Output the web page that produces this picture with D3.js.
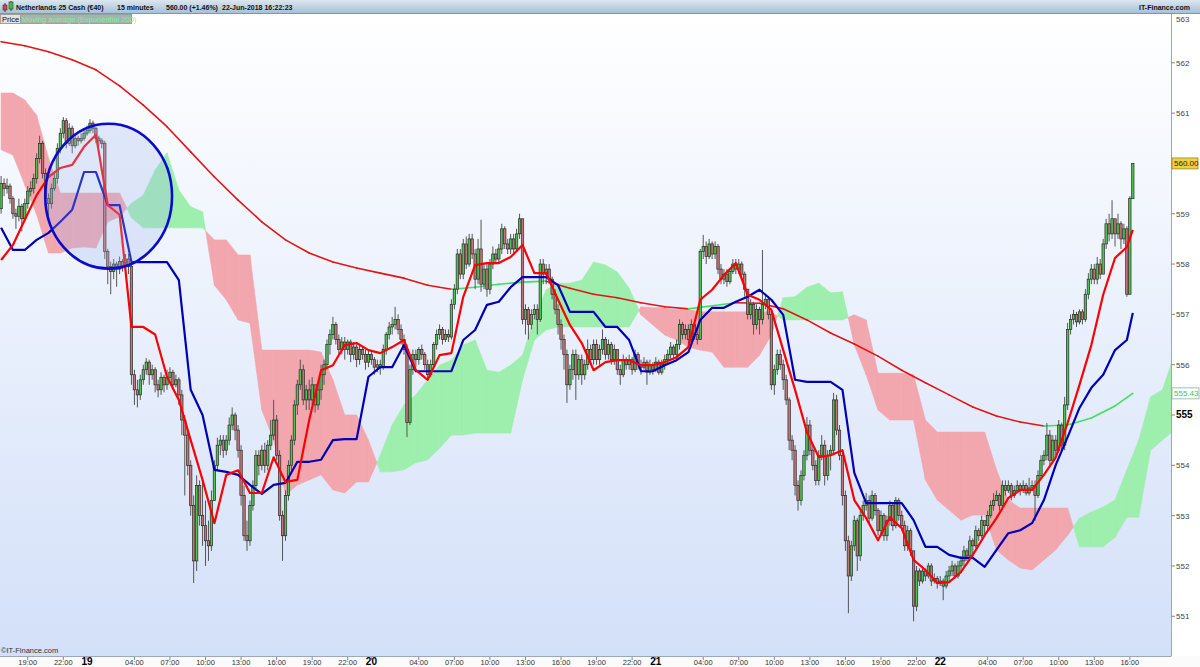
<!DOCTYPE html>
<html>
<head>
<meta charset="utf-8">
<script src="https://cdn.jsdelivr.net/npm/d3@7"></script>
<style>
  body { margin: 0; background: #fff; }
  svg { display: block; font-family: "Liberation Sans", Arial, sans-serif; }
</style>
</head>
<body>
<svg id="chart" width="1200" height="667"></svg>
<script>
// ---------------- data : 15 minute candles, 18-Jun-2018 16:45 -> 22-Jun-2018 16:15 ----------------
var firstOpen = 559.1;
var closes = [
  559.6,559.5,559.55,559.3, 559.0,558.95,559.15,558.9, 559.2,559.45,559.5,559.7, 560.1,560.4,559.8,559.3,
  559.2,559.5,559.7,560.3, 560.6,560.85,560.4,560.7, 560.35,560.5,560.45,560.5, 560.6,560.65,560.8,560.7,
  560.5,560.45,560.4,558.25, 557.95,557.85,558.0,557.9, 558.05,557.95,558.1,557.95, 555.8,555.5,555.4,555.7,
  555.9,556.05,555.8,555.9, 555.6,555.5,555.75,555.6, 555.75,555.85,555.6,555.7, 555.4,554.9,554.6,554.0,
  553.2,552.1,553.6,553.0, 552.8,552.5,552.4,553.3, 554.0,554.4,554.5,554.3, 554.5,554.8,555.0,554.7,
  554.3,553.4,552.6,552.5, 553.2,553.6,554.2,554.0, 554.3,554.0,554.4,554.6, 554.9,554.2,553.0,552.6,
  553.4,554.0,554.5,555.2, 555.6,555.9,555.3,555.5, 555.3,555.6,555.2,555.5, 555.8,556.0,556.4,556.6,
  556.8,556.5,556.3,556.45, 556.3,556.45,556.2,556.35, 556.1,556.3,556.2,556.05, 556.2,556.1,555.95,556.0,
  555.95,556.3,556.6,556.75, 556.8,556.9,556.7,556.5, 556.3,554.85,555.9,556.2, 556.1,556.3,556.2,556.0,
  555.8,556.0,556.4,556.6, 556.7,556.5,556.6,556.55, 557.2,557.5,558.2,557.8, 558.4,558.0,558.5,558.2,
  557.7,558.3,557.6,557.9, 557.5,558.0,558.2,558.1, 558.3,558.7,558.4,558.3, 558.5,558.3,558.6,558.9,
  556.9,557.1,556.8,557.0, 557.1,556.9,558.0,557.8, 557.9,557.7,557.4,557.1, 556.8,556.5,556.2,555.6,
  555.9,556.2,555.8,556.1, 555.8,556.0,556.3,556.1, 556.4,556.1,556.3,556.5, 556.2,556.4,556.1,556.3,
  555.9,555.8,556.1,556.0, 556.1,555.9,556.2,556.0, 555.95,556.05,555.85,556.0, 555.9,556.05,555.85,556.0,
  556.1,556.2,556.35,556.2, 556.4,556.8,556.6,556.7, 556.5,556.8,556.6,556.5, 558.25,558.35,558.15,558.4,
  558.2,558.35,557.9,557.7, 557.8,557.65,557.85,558.0, 557.9,558.0,557.8,557.5, 557.0,557.2,556.8,557.1,
  556.9,557.2,557.3,557.0, 555.6,555.9,556.2,556.0, 555.7,555.3,554.5,554.3, 553.6,553.3,553.8,554.2,
  554.8,554.3,554.0,553.7, 554.2,554.4,553.8,554.2, 554.3,555.3,554.7,554.2, 553.4,552.5,551.8,552.4,
  552.9,552.2,553.0,553.2, 553.3,552.95,553.4,553.1, 552.7,553.0,552.6,552.9, 553.2,552.8,553.3,553.0,
  552.8,552.4,552.7,552.3, 551.2,551.9,551.7,551.9, 551.8,552.0,551.7,551.75, 551.65,551.7,551.6,551.8,
  551.9,552.0,551.8,552.0, 552.1,552.3,552.2,552.5, 552.4,552.7,552.6,552.9, 552.8,553.0,553.2,553.3,
  553.4,553.2,553.6,553.5, 553.6,553.4,553.5,553.6, 553.5,553.6,553.45,553.55, 553.6,553.4,553.8,554.1,
  554.2,554.6,554.1,554.5, 554.3,554.8,554.4,555.2, 556.7,556.9,557.0,556.85, 557.05,556.9,557.4,557.7,
  557.9,557.7,558.0,557.8, 558.4,558.8,558.6,558.9, 558.6,558.8,558.5,558.7, 557.4,559.3,560.0
];
var highs = [
  559.75,559.7,559.7,559.6, 559.35,559.1,559.3,559.2, 559.3,559.55,559.65,559.8, 560.2,560.55,560.45,559.9,
  559.4,559.6,559.85,560.4, 560.7,560.92,560.9,560.8, 560.75,560.6,560.55,560.6, 560.7,560.75,560.88,560.85,
  560.72,560.55,560.5,560.45, 558.3,558.05,558.1,558.05, 558.15,558.1,558.2,558.2, 558.0,555.9,555.7,555.8,
  556.0,556.13,556.1,556.0, 555.95,555.7,555.85,555.8, 555.9,555.95,555.9,555.8, 555.75,555.5,555.0,554.7,
  554.1,553.4,553.8,553.7, 553.7,553.3,552.9,553.5, 554.1,554.55,554.6,554.6, 554.6,554.95,555.15,555.05,
  554.8,554.4,553.6,552.9, 553.3,553.7,554.3,554.3, 554.4,554.45,554.5,554.9, 555.3,555.0,554.3,553.1,
  553.5,554.1,554.6,555.3, 555.7,556.1,556.0,555.6, 555.7,555.75,555.6,555.65, 556.0,556.1,556.5,556.7,
  556.95,556.85,556.6,556.55, 556.55,556.5,556.5,556.45, 556.4,556.4,556.35,556.3, 556.3,556.25,556.15,556.1,
  556.1,556.4,556.65,556.85, 556.95,557.15,557.0,556.8, 556.6,556.4,556.0,556.3, 556.3,556.35,556.4,556.25,
  556.1,556.1,556.45,556.7, 556.8,556.75,556.7,556.7, 557.3,557.6,558.3,558.3, 558.5,558.55,558.6,558.6,
  558.3,558.5,558.88,558.0, 558.0,558.1,558.35,558.3, 558.4,558.8,558.75,558.5, 558.6,558.6,558.7,559.0,
  558.9,557.2,557.15,557.1, 557.2,557.2,558.1,558.1, 558.0,558.0,557.75,557.5, 557.2,556.9,556.6,556.3,
  556.0,556.3,556.3,556.2, 556.2,556.1,556.5,556.4, 556.5,556.5,556.4,556.7, 556.55,556.5,556.45,556.4,
  556.3,556.0,556.2,556.15, 556.2,556.15,556.3,556.25, 556.1,556.15,556.1,556.1, 556.05,556.15,556.1,556.1,
  556.2,556.3,556.45,556.4, 556.5,556.9,556.85,556.8, 556.8,556.9,556.85,556.7, 558.3,558.58,558.45,558.5,
  558.45,558.45,558.4,558.0, 557.9,557.9,557.9,558.1, 558.1,558.1,558.05,557.85, 557.5,557.3,557.25,557.2,
  557.15,558.28,557.4,557.35, 557.1,556.0,556.3,556.3, 556.1,555.8,555.35,554.6, 554.4,553.7,553.9,554.3,
  554.96,554.9,554.4,554.1, 554.3,554.6,554.5,554.3, 554.4,555.44,555.4,554.8, 554.25,553.5,552.6,552.5,
  553.0,552.95,553.1,553.3, 553.45,553.4,553.5,553.45, 553.15,553.1,553.05,553.0, 553.3,553.25,553.37,553.35,
  553.1,552.9,552.8,552.75, 552.3,552.0,551.95,552.0, 551.95,552.06,552.05,551.85, 551.8,551.8,551.75,551.9,
  552.0,552.1,552.05,552.1, 552.2,552.4,552.35,552.6, 552.55,552.8,552.75,553.0, 552.9,553.1,553.3,553.45,
  553.5,553.45,553.7,553.7, 553.7,553.65,553.6,553.7, 553.65,553.7,553.65,553.75, 553.7,553.7,553.9,554.2,
  554.3,554.84,554.7,554.6, 554.6,554.9,554.85,555.36, 556.83,557.0,557.09,557.05, 557.1,557.1,557.5,557.82,
  558.0,558.0,558.14,558.1, 558.5,558.9,559.0,559.27, 558.9,559.0,558.85,558.8, 558.75,559.35,560.0
];
var lows = [
  559.0,559.35,559.4,559.2, 558.9,558.7,558.85,558.65, 558.85,559.1,559.35,559.4, 559.6,560.0,559.7,559.1,
  558.95,559.1,559.45,559.6, 560.2,560.5,560.3,560.35, 560.2,560.3,560.35,560.4, 560.45,560.55,560.6,560.6,
  560.4,560.35,560.3,558.1, 557.6,557.4,557.7,557.55, 557.8,557.85,557.9,557.8, 555.6,555.2,555.15,555.3,
  555.6,555.8,555.6,555.7, 555.45,555.35,555.4,555.45, 555.5,555.65,555.5,555.55, 555.2,554.6,553.4,553.8,
  553.0,551.66,551.9,552.8, 552.4,552.0,552.1,552.3, 553.3,553.9,554.2,554.15, 554.2,554.4,554.7,554.5,
  554.15,553.2,552.5,552.3, 552.4,553.1,553.5,553.8, 553.9,553.85,553.9,554.3, 554.5,554.1,552.9,552.1,
  552.5,553.3,553.9,554.4, 555.0,555.5,555.2,555.1, 555.1,555.2,555.05,555.1, 555.3,555.6,555.9,556.2,
  556.5,556.4,556.2,556.2, 556.1,556.2,556.05,556.1, 555.95,556.0,556.1,555.9, 555.95,556.0,555.8,555.85,
  555.8,555.9,556.2,556.5, 556.6,556.7,556.6,556.4, 556.2,554.56,554.8,555.8, 555.95,556.0,556.1,555.9,
  555.7,555.75,555.95,556.3, 556.5,556.4,556.45,556.45, 556.5,557.1,557.4,557.7, 557.7,557.9,557.95,558.1,
  557.5,557.6,557.45,557.5, 557.35,557.4,557.9,558.0, 558.0,558.2,558.3,558.2, 558.2,558.2,558.25,558.5,
  556.8,556.6,556.5,556.7, 556.9,556.6,556.85,557.6, 557.6,557.6,557.3,557.0, 556.6,556.3,555.9,555.24,
  555.5,555.7,555.3,555.7, 555.6,555.7,555.9,556.0, 556.0,556.0,556.0,556.2, 556.1,556.1,556.0,556.0,
  555.8,555.6,555.75,555.9, 555.9,555.8,555.85,555.9, 555.8,555.9,555.6,555.8, 555.8,555.85,555.8,555.8,
  555.9,556.0,556.1,556.1, 556.1,556.3,556.5,556.5, 556.4,556.4,556.5,556.4, 556.5,558.1,558.0,558.1,
  558.1,558.1,557.8,557.6, 557.6,557.55,557.6,557.8, 557.8,557.8,557.7,557.35, 556.9,556.9,556.6,556.7,
  556.6,556.8,557.1,556.9, 555.5,555.4,555.8,555.9, 555.5,555.2,554.3,554.1, 553.4,553.1,553.2,553.7,
  554.1,554.2,553.9,553.6, 553.6,554.1,553.6,553.7, 553.9,554.2,554.6,554.1, 553.2,552.3,551.06,551.7,
  552.3,551.9,552.1,552.9, 553.1,552.85,552.9,553.0, 552.6,552.6,552.5,552.5, 552.8,552.7,552.75,552.9,
  552.7,552.3,552.3,552.2, 550.9,551.1,551.6,551.65, 551.7,551.75,551.6,551.65, 551.55,551.6,551.32,551.55,
  551.7,551.8,551.75,551.75, 551.85,552.0,552.1,552.15, 552.2,552.35,552.5,552.55, 552.6,552.7,552.95,553.1,
  553.3,553.1,553.15,553.4, 553.45,553.3,553.35,553.45, 553.4,553.45,553.4,553.4, 553.5,552.9,553.35,553.75,
  554.0,554.1,554.0,554.05, 554.2,554.25,554.3,554.3, 555.1,556.6,556.8,556.75, 556.8,556.8,556.85,557.3,
  557.6,557.6,557.6,557.7, 557.8,558.3,558.45,558.5, 558.35,558.5,558.3,558.4, 557.35,557.4,559.35
];

// Ichimoku lines, read hourly (every 4th candle) plus the last candle
var tenkan = [
  558.08,558.38,558.88,559.37,559.73,559.91,559.97,560.33,560.57,559.17,
  558.98,556.75,556.75,556.6,555.76,555.30,554.50,553.71,552.85,553.81,
  553.90,553.45,553.45,554.16,553.67,553.71,554.90,555.89,555.99,556.39,
  556.43,556.29,556.23,556.35,556.49,555.89,555.70,556.19,556.23,557.35,
  557.98,558.02,558.02,558.14,558.38,557.82,557.82,557.29,556.79,556.43,
  555.89,556.05,556.09,556.09,555.99,555.99,556.05,556.15,556.35,557.29,
  557.49,557.78,558.02,557.39,557.29,557.09,556.29,555.50,554.66,554.16,
  554.20,554.30,553.31,552.95,552.51,552.97,552.75,552.12,551.92,551.66,
  551.68,551.88,552.22,552.61,552.95,553.35,553.51,553.51,553.81,554.16,
  554.84,555.60,556.39,557.39,558.12,558.34,558.68
];
var kijun = [
  558.72,558.28,558.28,558.48,558.62,558.84,559.08,559.83,559.83,559.17,
  559.17,558.04,558.04,558.04,558.04,557.68,555.50,555.00,553.91,553.87,
  553.81,553.61,553.43,553.61,553.65,554.07,554.07,554.11,554.50,554.52,
  554.52,555.76,555.95,555.95,556.39,555.87,555.87,555.87,555.87,556.49,
  556.69,557.19,557.25,557.54,557.74,557.74,557.74,557.58,557.05,557.05,
  557.05,556.75,556.75,556.49,555.87,555.87,555.99,556.09,556.25,556.89,
  557.13,557.13,557.25,557.35,557.49,557.29,556.99,555.70,555.66,555.66,
  555.66,555.50,553.85,553.25,553.25,553.25,553.25,552.91,552.38,552.38,
  552.22,552.16,552.16,551.98,552.32,552.65,552.71,552.85,553.31,554.01,
  554.56,555.14,555.54,555.80,556.29,556.49,557.03
];
// cloud (senkou span A / B), hourly, shifted 26 periods ahead
var spanA = [
  560.27,560.17,559.57,558.98,558.22,558.22,558.32,558.34,558.32,558.84,
  558.94,559.21,559.37,559.87,560.21,559.47,559.14,559.04,557.58,557.29,
  556.89,556.83,555.10,554.50,553.41,553.61,553.71,553.81,553.51,553.45,
  553.67,553.67,554.20,554.80,555.20,555.40,555.70,555.99,556.09,556.39,
  556.49,555.89,555.85,555.99,556.19,556.93,557.49,557.62,557.62,557.68,
  558.04,557.98,557.84,557.52,556.99,556.79,556.59,556.49,556.35,556.29,
  556.25,555.95,555.95,555.95,556.19,556.59,557.33,557.35,557.54,557.62,
  557.43,557.45,556.39,555.80,555.10,554.90,554.90,554.90,553.71,553.31,
  553.11,552.91,553.01,553.01,552.32,552.12,551.96,551.92,552.12,552.32,
  552.61,552.95,553.07,553.17,553.31,553.91,554.50,555.36,555.50,556.19
];
var spanB = [
  561.40,561.40,561.26,560.96,560.11,559.41,559.41,559.41,559.41,559.41,
  559.41,558.92,558.72,558.72,558.72,558.72,558.72,558.72,558.48,558.48,
  558.18,558.18,556.29,556.29,556.29,556.29,556.29,556.25,555.70,555.00,
  555.00,554.50,553.87,553.87,553.91,554.05,554.11,554.34,554.60,554.60,
  554.64,554.64,554.64,554.64,555.70,556.49,556.69,556.75,556.75,556.75,
  556.75,556.75,556.75,556.75,557.15,557.13,557.13,557.09,557.09,557.05,
  557.05,557.05,557.05,557.05,557.05,557.05,556.89,556.89,556.89,556.89,
  556.89,556.89,556.99,556.89,555.83,555.83,555.83,555.80,554.90,554.66,
  554.66,554.66,554.66,554.66,553.91,553.31,553.15,553.15,553.15,553.15,
  553.15,552.38,552.38,552.38,552.57,552.97,552.97,554.30,554.50,554.70
];
// exponential moving average 200, every 2 hours plus the last candle
var ema200 = [
  562.42,562.34,562.22,562.06,561.86,561.54,561.16,560.73,560.23,559.73,
  559.27,558.84,558.48,558.22,558.04,557.92,557.82,557.72,557.58,557.50,
  557.54,557.60,557.64,557.66,557.52,557.40,557.33,557.23,557.15,557.11,
  557.17,557.23,557.22,557.11,556.89,556.63,556.41,556.17,555.89,555.64,
  555.40,555.16,554.98,554.86,554.78,554.80,554.94,555.18,555.43
];

var startTime = new Date(2018, 5, 18, 16, 45);
var tickTimes = [
  "2018-06-18 19:00","2018-06-18 22:00",
  "2018-06-19 00:00","2018-06-19 04:00","2018-06-19 07:00","2018-06-19 10:00","2018-06-19 13:00","2018-06-19 16:00","2018-06-19 19:00","2018-06-19 22:00",
  "2018-06-20 00:00","2018-06-20 04:00","2018-06-20 07:00","2018-06-20 10:00","2018-06-20 13:00","2018-06-20 16:00","2018-06-20 19:00","2018-06-20 22:00",
  "2018-06-21 00:00","2018-06-21 04:00","2018-06-21 07:00","2018-06-21 10:00","2018-06-21 13:00","2018-06-21 16:00","2018-06-21 19:00","2018-06-21 22:00",
  "2018-06-22 00:00","2018-06-22 04:00","2018-06-22 07:00","2018-06-22 10:00","2018-06-22 13:00","2018-06-22 16:00"
];
var priceTicks = [551,552,553,554,555,556,557,558,559,560,561,562,563];
var lastPrice = 560.00;

// ---------------- layout ----------------
var W = 1200, H = 667;
var plot = { l: 0, t: 14, r: 1171, b: 656 };
var svg = d3.select("#chart");

var x = d3.scaleLinear().domain([0, closes.length - 1]).range([1.1, 1132.8]);
var y = d3.scaleLinear().domain([550.21, 562.97]).range([plot.b, plot.t]);
var parseT = d3.timeParse("%Y-%m-%d %H:%M");
function timeIndex(s) { return (parseT(s) - startTime) / 900000; }

var defs = svg.append("defs");
var bg = defs.append("linearGradient").attr("id", "bg").attr("x1", 0).attr("y1", 0).attr("x2", 0).attr("y2", 1);
bg.append("stop").attr("offset", "0%").attr("stop-color", "#ffffff");
bg.append("stop").attr("offset", "100%").attr("stop-color", "#d3e0f9");
var hd = defs.append("linearGradient").attr("id", "hd").attr("x1", 0).attr("y1", 0).attr("x2", 0).attr("y2", 1);
hd.append("stop").attr("offset", "0%").attr("stop-color", "#dbe6ef");
hd.append("stop").attr("offset", "100%").attr("stop-color", "#a9c0d5");
defs.append("clipPath").attr("id", "clip").append("rect")
  .attr("x", plot.l).attr("y", plot.t).attr("width", plot.r - plot.l).attr("height", plot.b - plot.t);

svg.append("rect").attr("width", W).attr("height", H).attr("fill", "#ffffff");
svg.append("rect").attr("x", plot.l).attr("y", plot.t).attr("width", plot.r - plot.l).attr("height", plot.b - plot.t)
  .attr("fill", "url(#bg)");

var g = svg.append("g").attr("clip-path", "url(#clip)");

// ---------------- cloud ----------------
var cloudGreen = "#9eeead", cloudRed = "#f2a6ad";
function poly(pts, col) {
  g.append("path")
    .attr("d", "M" + pts.map(function(p) { return x(p[0]) + "," + y(p[1]); }).join("L") + "Z")
    .attr("fill", col).attr("stroke", col).attr("stroke-width", 0.6);
}
for (var k = 0; k < spanA.length - 1; k++) {
  var i0 = k * 4, i1 = (k + 1) * 4;
  var a0 = spanA[k], a1 = spanA[k + 1], b0 = spanB[k], b1 = spanB[k + 1];
  var d0 = a0 - b0, d1 = a1 - b1;
  if (d0 * d1 >= 0) {
    poly([[i0, a0], [i1, a1], [i1, b1], [i0, b0]], (d0 + d1) >= 0 ? cloudGreen : cloudRed);
  } else {
    var t = d0 / (d0 - d1), ic = i0 + t * 4, pc = a0 + t * (a1 - a0);
    poly([[i0, a0], [ic, pc], [i0, b0]], d0 > 0 ? cloudGreen : cloudRed);
    poly([[ic, pc], [i1, a1], [i1, b1]], d1 > 0 ? cloudGreen : cloudRed);
  }
}

// ---------------- EMA 200 (green while rising, red while falling) ----------------
var emaIdx = ema200.map(function(v, j) { return j < ema200.length - 1 ? j * 8 : closes.length - 1; });
for (var j = 0; j < ema200.length - 1; j++) {
  g.append("line")
    .attr("x1", x(emaIdx[j])).attr("y1", y(ema200[j]))
    .attr("x2", x(emaIdx[j + 1])).attr("y2", y(ema200[j + 1]))
    .attr("stroke", ema200[j + 1] >= ema200[j] ? "#3ee060" : "#e41414")
    .attr("stroke-width", 1.6).attr("stroke-linecap", "round");
}

// ---------------- candles ----------------
var candles = closes.map(function(c, i) {
  var o = i ? closes[i - 1] : firstOpen;
  return { i: i, o: o, c: c, h: Math.max(highs[i], o, c), l: Math.min(lows[i], o, c) };
});
var cg = g.append("g");
cg.selectAll("line.wick").data(candles).enter().append("line")
  .attr("x1", function(d) { return x(d.i); }).attr("x2", function(d) { return x(d.i); })
  .attr("y1", function(d) { return y(d.h); }).attr("y2", function(d) { return y(d.l); })
  .attr("stroke", "#555").attr("stroke-width", 1);
cg.selectAll("rect.body").data(candles).enter().append("rect")
  .attr("x", function(d) { return x(d.i) - 1.2; })
  .attr("width", 2.4)
  .attr("y", function(d) { return y(Math.max(d.o, d.c)); })
  .attr("height", function(d) { return Math.max(1, Math.abs(y(d.o) - y(d.c))); })
  .attr("fill", function(d) { return d.c >= d.o ? "#4cc44c" : "#c47474"; })
  .attr("stroke", "#2b2b2b").attr("stroke-width", 0.7);

// ---------------- tenkan / kijun ----------------
function lineIdx(arr) { return arr.map(function(v, k) { return k < arr.length - 1 ? k * 4 : closes.length - 1; }); }
var tIdx = lineIdx(tenkan), kIdx = lineIdx(kijun);
var line = d3.line().x(function(d) { return x(d[0]); }).y(function(d) { return y(d[1]); });
g.append("path").attr("d", line(kijun.map(function(v, k) { return [kIdx[k], v]; })))
  .attr("fill", "none").attr("stroke", "#0000b4").attr("stroke-width", 2.2).attr("stroke-linejoin", "round");
g.append("path").attr("d", line(tenkan.map(function(v, k) { return [tIdx[k], v]; })))
  .attr("fill", "none").attr("stroke", "#ff0000").attr("stroke-width", 2.2).attr("stroke-linejoin", "round");

// ---------------- annotation ellipse ----------------
var mark = { i: 36.3, p: 559.35, di: 21.4, dp: 1.44 };
g.append("ellipse")
  .attr("cx", x(mark.i)).attr("cy", y(mark.p))
  .attr("rx", x(mark.i + mark.di) - x(mark.i)).attr("ry", y(mark.p - mark.dp) - y(mark.p))
  .attr("fill", "rgba(160,182,238,0.28)").attr("stroke", "#0b0bcc").attr("stroke-width", 2.6);

// ---------------- frame, axes ----------------
svg.append("rect").attr("x", plot.r).attr("y", 13).attr("width", W - plot.r).attr("height", H - 13).attr("fill", "#ffffff");
svg.append("rect").attr("x", 0).attr("y", plot.b).attr("width", W).attr("height", H - plot.b).attr("fill", "#fbfbfb");
svg.append("line").attr("x1", plot.r + 0.5).attr("x2", plot.r + 0.5).attr("y1", 13).attr("y2", plot.b)
  .attr("stroke", "#9aa8ba");
svg.append("line").attr("x1", 0).attr("x2", plot.r + 0.5).attr("y1", plot.b + 0.5).attr("y2", plot.b + 0.5)
  .attr("stroke", "#9aa8ba");

svg.append("text").attr("x", 1).attr("y", 653).attr("font-size", 7.5).attr("fill", "#333")
  .text("\u00a9IT-Finance.com");

// y axis (the current price tag replaces its own tick label)
var ya = svg.append("g");
priceTicks.forEach(function(p) {
  var yy = y(p);
  var bold = p === 555;
  ya.append("line").attr("x1", plot.r).attr("x2", plot.r + 4).attr("y1", yy).attr("y2", yy).attr("stroke", "#888");
  if (Math.abs(p - lastPrice) < 0.3) return;
  ya.append("text").attr("x", plot.r + 5).attr("y", Math.max(yy, 19) + 3)
    .attr("font-size", bold ? 10 : 8).attr("font-weight", bold ? "bold" : "normal")
    .attr("fill", bold ? "#000" : "#444").text(p);
});
var tagP = ya.append("g").attr("transform", "translate(" + (plot.r + 1) + "," + y(lastPrice) + ")");
tagP.append("rect").attr("x", 0).attr("y", -5.5).attr("width", 26).attr("height", 11)
  .attr("fill", "#f4cf3c").attr("stroke", "#8c7a30").attr("stroke-width", 0.7);
tagP.append("text").attr("x", 2).attr("y", 3).attr("font-size", 8).attr("fill", "#222").text(lastPrice.toFixed(2));
var emaLast = ema200[ema200.length - 1];
var tagM = ya.append("g").attr("transform", "translate(" + (plot.r + 1) + "," + y(emaLast) + ")");
tagM.append("rect").attr("x", 0).attr("y", -5.5).attr("width", 27).attr("height", 11)
  .attr("fill", "#ffffff").attr("stroke", "#7fb2a0").attr("stroke-width", 0.8);
tagM.append("text").attr("x", 2).attr("y", 3).attr("font-size", 8).attr("fill", "#3cc46a").text(emaLast.toFixed(2));

// x axis
var xa = svg.append("g");
tickTimes.forEach(function(s) {
  var xi = x(timeIndex(s));
  var dt = parseT(s);
  var isDay = dt.getHours() === 0;
  xa.append("line").attr("x1", xi).attr("x2", xi).attr("y1", plot.b + 1).attr("y2", plot.b + 4).attr("stroke", "#888");
  xa.append("text").attr("x", xi).attr("y", 665).attr("text-anchor", "middle")
    .attr("font-size", isDay ? 10 : 7.5).attr("font-weight", isDay ? "bold" : "normal")
    .attr("fill", isDay ? "#000" : "#333")
    .text(isDay ? d3.timeFormat("%d")(dt) : d3.timeFormat("%H:%M")(dt));
});

// ---------------- header ----------------
svg.append("rect").attr("x", 0).attr("y", 0).attr("width", W).attr("height", 13).attr("fill", "url(#hd)");
svg.append("line").attr("x1", 0).attr("x2", W).attr("y1", 13.5).attr("y2", 13.5).attr("stroke", "#7d97b0");
// small candle icon
svg.append("line").attr("x1", 5).attr("x2", 5).attr("y1", 3).attr("y2", 12).attr("stroke", "#333");
svg.append("rect").attr("x", 3).attr("y", 5).attr("width", 4).attr("height", 5).attr("fill", "#e04040").attr("stroke", "#333").attr("stroke-width", 0.6);
svg.append("line").attr("x1", 11).attr("x2", 11).attr("y1", 1).attr("y2", 11).attr("stroke", "#333");
svg.append("rect").attr("x", 9).attr("y", 2).attr("width", 4).attr("height", 7).attr("fill", "#40c040").attr("stroke", "#333").attr("stroke-width", 0.6);
var headerParts = [
  { t: "Netherlands 25 Cash (\u20ac40)", x: 16 },
  { t: "15 minutes", x: 117 },
  { t: "560.00 (+1.46%)", x: 166 },
  { t: "22-Jun-2018 16:22:23", x: 222 }
];
headerParts.forEach(function(h) {
  svg.append("text").attr("x", h.x).attr("y", 10).attr("font-size", 7).attr("font-weight", "bold")
    .attr("fill", "#111").text(h.t);
});
svg.append("text").attr("x", 1190).attr("y", 10).attr("text-anchor", "end").attr("font-size", 7)
  .attr("font-weight", "bold").attr("fill", "#111").text("IT-Finance.com");

// legend row
svg.append("rect").attr("x", 0.5).attr("y", 14.5).attr("width", 20).attr("height", 9).attr("fill", "#e2e2e2").attr("stroke", "#a0a0a0");
svg.append("text").attr("x", 2).attr("y", 22).attr("font-size", 7.5).attr("fill", "#111").text("Price");
svg.append("rect").attr("x", 20.5).attr("y", 14.5).attr("width", 111).attr("height", 9).attr("fill", "#a8b2ac").attr("stroke", "#98a29c");
svg.append("text").attr("x", 22).attr("y", 22).attr("font-size", 7.5).attr("fill", "#7af09a")
  .text("Moving average (Exponential 200)");
</script>
</body>
</html>
